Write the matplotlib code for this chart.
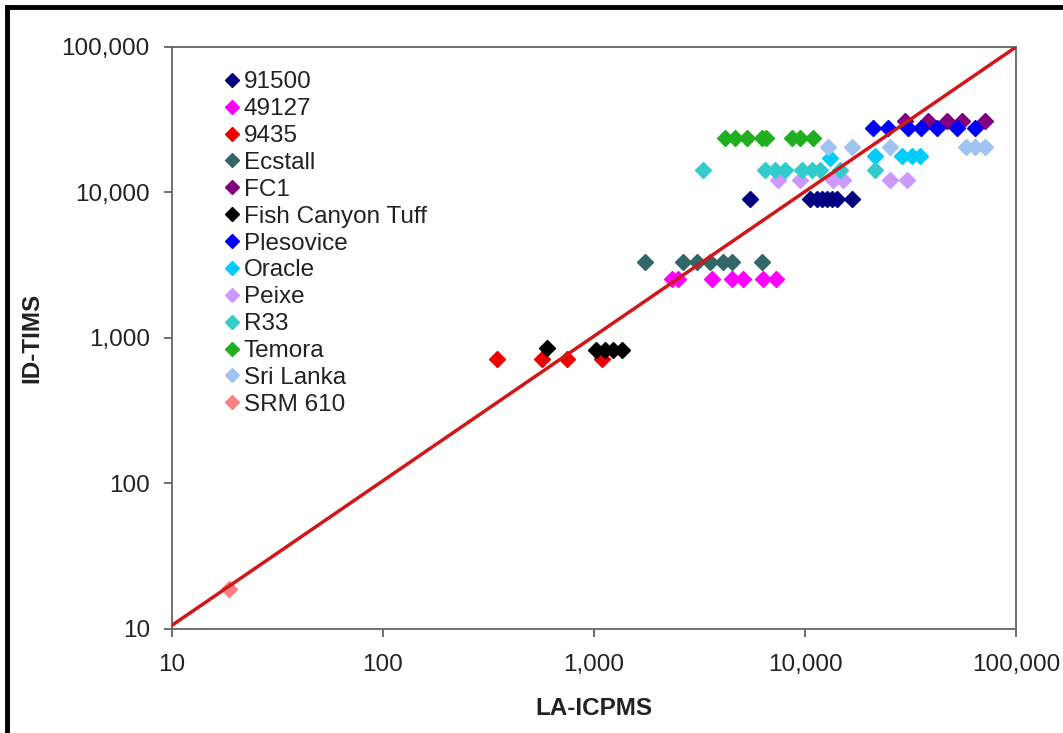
import matplotlib
matplotlib.use("Agg")
import matplotlib.pyplot as plt
from matplotlib.ticker import FuncFormatter, NullLocator, FixedLocator
from matplotlib.lines import Line2D

plt.rcParams['font.family'] = ['Liberation Sans', 'DejaVu Sans']

# ---- data (LA-ICPMS x, ID-TIMS y) ----
s91500_x = [5480, 10600, 11400, 12030, 12700, 13400, 14200, 16700]
s91500_y = [9000, 9000, 9000, 9000, 9000, 9000, 9000, 9000]

s49127_x = [2345, 2500, 3620, 4510, 5080, 6320, 7290]
s49127_y = [2540, 2540, 2540, 2540, 2540, 2540, 2540]

s9435_x = [347, 567, 745, 1090]
s9435_y = [718, 718, 718, 718]

ecstall_x = [1745, 2640, 3080, 3550, 4090, 4510, 6250]
ecstall_y = [3330, 3330, 3330, 3330, 3330, 3330, 3330]

fc1_x = [29800, 38300, 47100, 55500, 71300]
fc1_y = [31000, 31000, 31000, 31000, 31000]

fct_x = [599, 1020, 1130, 1230, 1360]
fct_y = [850, 828, 828, 828, 828]

plesovice_x = [21000, 24700, 30700, 35400, 42200, 52500, 63900]
plesovice_y = [27700, 27700, 27700, 27700, 27700, 27700, 27700]

oracle_x = [13100, 21500, 28800, 32100, 35100]
oracle_y = [17300, 17800, 17800, 17800, 17800]

peixe_x = [7450, 9460, 13600, 15100, 25300, 30400]
peixe_y = [12200, 12200, 12200, 12200, 12200, 12200]

r33_x = [3290, 6460, 7210, 8040, 9680, 10800, 11800, 14600, 21500]
r33_y = [14300, 14300, 14300, 14300, 14300, 14300, 14300, 14300, 14300]

temora_x = [4180, 4660, 5310, 6250, 6530, 8670, 9460, 10900]
temora_y = [23700, 23700, 23700, 23700, 23700, 23700, 23700, 23700]

srilanka_x = [12900, 16700, 25300, 57900, 63900, 71300]
srilanka_y = [20600, 20600, 20600, 20600, 20600, 20600]

srm610_x = [18.6]
srm610_y = [18.8]

fit_x = [10, 100000]
fit_y = [10.6, 100000]

series = [
    ("91500", s91500_x, s91500_y, "#000080"),
    ("49127", s49127_x, s49127_y, "#FF00FF"),
    ("9435", s9435_x, s9435_y, "#EE0000"),
    ("Ecstall", ecstall_x, ecstall_y, "#336666"),
    ("FC1", fc1_x, fc1_y, "#800080"),
    ("Fish Canyon Tuff", fct_x, fct_y, "#000000"),
    ("Plesovice", plesovice_x, plesovice_y, "#0000FF"),
    ("Oracle", oracle_x, oracle_y, "#00CCFF"),
    ("Peixe", peixe_x, peixe_y, "#CC99FF"),
    ("R33", r33_x, r33_y, "#33CCCC"),
    ("Temora", temora_x, temora_y, "#1FAF1F"),
    ("Sri Lanka", srilanka_x, srilanka_y, "#A0C4F0"),
    ("SRM 610", srm610_x, srm610_y, "#FF8080"),
]

xticks = [10, 100, 1000, 10000, 100000]
yticks = [10, 100, 1000, 10000, 100000]

fig = plt.figure(figsize=(10.63, 7.33), dpi=100)
ax = fig.add_axes([0.1618, 0.1419, 0.7940, 0.7940])

handles = []
for name, xs, ys, col in series:
    h, = ax.plot(xs, ys, linestyle='none', marker='D', markersize=8.3,
                 color=col, markeredgecolor=col, label=name, zorder=3)
    handles.append(h)

ax.plot(fit_x, fit_y, color='#D01818', lw=2.5, zorder=4)

ax.set_xscale('log')
ax.set_yscale('log')
ax.set_xlim(10, 100000)
ax.set_ylim(10, 100000)
ax.xaxis.set_major_locator(FixedLocator(xticks))
ax.yaxis.set_major_locator(FixedLocator(yticks))
ax.xaxis.set_minor_locator(NullLocator())
ax.yaxis.set_minor_locator(NullLocator())
fmt = FuncFormatter(lambda v, p: f"{int(round(v)):,}")
ax.xaxis.set_major_formatter(fmt)
ax.yaxis.set_major_formatter(fmt)
ax.tick_params(axis='both', which='major', labelsize=17.5, length=6,
               width=1.2, color='#555555', labelcolor='#222222', direction='out')
ax.tick_params(axis='x', pad=12)
ax.tick_params(axis='y', pad=10)

for side, sp in ax.spines.items():
    sp.set_color('#666666')
    sp.set_linewidth(1.3)

ax.set_xlabel("LA-ICPMS", fontsize=17.5, fontweight='bold', labelpad=15, color='#222222')
ax.set_ylabel("ID-TIMS", fontsize=17.5, fontweight='bold', labelpad=13, color='#222222')

leg = ax.legend(handles=handles, loc='upper left', bbox_to_anchor=(0.052, 0.975),
                frameon=False, fontsize=17.5, markerscale=0.8, handlelength=0.55,
                handletextpad=0.2, labelspacing=0.2, borderaxespad=0.0)
for t in leg.get_texts():
    t.set_color('#222222')

# outer frame (left and top)
fig.add_artist(Line2D([0.0065, 0.0065], [0.0, 0.991], color='black', lw=3.5,
                      transform=fig.transFigure))
fig.add_artist(Line2D([0.0065, 1.0], [0.991, 0.991], color='black', lw=3.5,
                      transform=fig.transFigure))

fig.savefig("out.png", dpi=100)
